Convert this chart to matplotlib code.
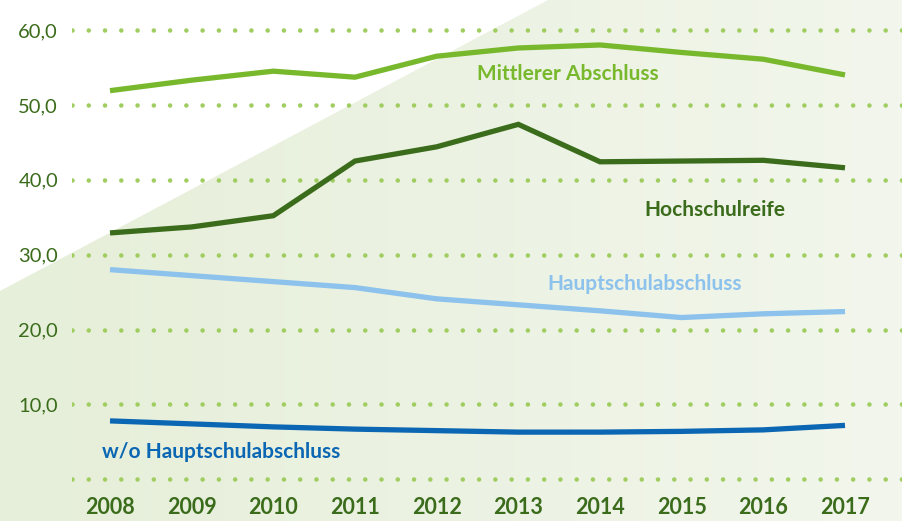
import numpy as np
import matplotlib
matplotlib.use("Agg")
import matplotlib.pyplot as plt
from matplotlib.patches import Polygon

plt.rcParams['font.family'] = ['Lato', 'DejaVu Sans']
plt.rcParams['lines.scale_dashes'] = False

years = [2008, 2009, 2010, 2011, 2012, 2013, 2014, 2015, 2016, 2017]
mittlerer = [51.9, 53.3, 54.5, 53.7, 56.5, 57.6, 58.0, 57.0, 56.1, 54.0]
hochschulreife = [32.9, 33.7, 35.2, 42.5, 44.4, 47.4, 42.4, 42.5, 42.6, 41.6]
hauptschul = [28.0, 27.2, 26.4, 25.6, 24.1, 23.3, 22.5, 21.6, 22.1, 22.4]
ohne_haupt = [7.8, 7.4, 7.0, 6.7, 6.5, 6.3, 6.3, 6.4, 6.6, 7.2]
yticks = [0, 10, 20, 30, 40, 50, 60]
ytick_labels = ["", "10,0", "20,0", "30,0", "40,0", "50,0", "60,0"]

W, H = 902, 521
fig = plt.figure(figsize=(W / 100, H / 100), dpi=100)

# background
bg = fig.add_axes([0, 0, 1, 1])
bg.set_xlim(0, W)
bg.set_ylim(H, 0)
bg.axis('off')
c1 = np.array([0xe6, 0xef, 0xd9]) / 255
c2 = np.array([0xf2, 0xf6, 0xec]) / 255
t = np.linspace(0, 1, 256)
grad = c1[None, :] * (1 - t[:, None]) + c2[None, :] * t[:, None]
img = np.tile(grad[None, :, :], (4, 1, 1))
bg.imshow(img, extent=[0, W, H, 0], aspect='auto', zorder=0)
bg.add_patch(Polygon([[0, 0], [548, 0], [0, 291]], closed=True,
                     facecolor='white', edgecolor='none', zorder=1))

# main axes
left_px = 72
bottom_px = 490
ax = fig.add_axes([left_px / W, (H - bottom_px) / H, 1 - left_px / W, bottom_px / H])
ax.patch.set_alpha(0)
px_per_year = (845 - 110) / 9
ax.set_xlim(2008 - (110 - left_px) / px_per_year, 2017 + (W - 845) / px_per_year)
y0, y60 = 479.3, 30.0
px_per_unit = (y0 - y60) / 60
ax.set_ylim((y0 - bottom_px) / px_per_unit, y0 / px_per_unit)

for s in ax.spines.values():
    s.set_visible(False)

for yv in yticks:
    ax.axhline(yv, color='#a0cd60', linewidth=3.3, linestyle=(0, (0.01, 11.7)),
               dash_capstyle='round', zorder=1)

series = [
    (mittlerer, '#78b82c'),
    (hochschulreife, '#3b6c1c'),
    (hauptschul, '#8cc2ec'),
    (ohne_haupt, '#0b67b3'),
]
for vals, col in series:
    ax.plot(years, vals, color=col, linewidth=3.8, solid_joinstyle='miter',
            solid_capstyle='butt', zorder=3)

ax.set_yticks(yticks)
ax.set_yticklabels(ytick_labels)
ax.set_xticks(years)
ax.set_xticklabels([str(y) for y in years])
ax.tick_params(axis='y', length=0, pad=10, labelsize=14.5, labelcolor='#3b6c1c')
ax.tick_params(axis='x', length=0, pad=5, labelsize=15.5, labelcolor='#3b6c1c')
for lab in ax.get_xticklabels():
    lab.set_fontweight('bold')


def label(xp, yp, s, col):
    x = ax.get_xlim()[0] + (xp - left_px) / px_per_year
    y = (y0 - yp) / px_per_unit
    ax.text(x, y, s, color=col, fontsize=15, fontweight='bold', ha='center', va='center')


label(568, 74, "Mittlerer Abschluss", '#78b82c')
label(715, 210, "Hochschulreife", '#3b6c1c')
label(645, 284, "Hauptschulabschluss", '#8cc2ec')
label(221, 452, "w/o Hauptschulabschluss", '#0b67b3')

fig.savefig("out.png", dpi=100)
